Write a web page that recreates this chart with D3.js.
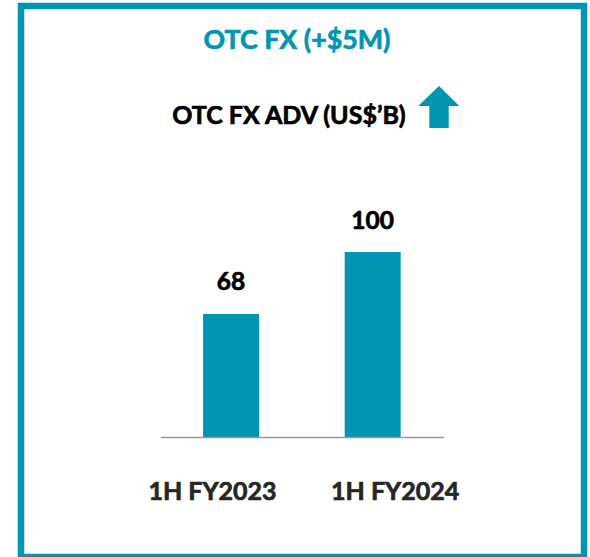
<!DOCTYPE html>
<html>
<head>
<meta charset="utf-8">
<script src="https://cdn.jsdelivr.net/npm/d3@7"></script>
<style>
  html, body { margin: 0; padding: 0; background: #fff; }
  svg { display: block; }
  text { font-family: Lato, "Open Sans", sans-serif; font-weight: 700; stroke-width: 0.7px; stroke-linejoin: round; }
</style>
</head>
<body>
<svg id="chart" width="590" height="557"></svg>
<script>
const categories = ["1H FY2023", "1H FY2024"];
const values = [68, 100];
const valueLabels = ["68", "100"];
const title = "OTC FX (+$5M)";
const subtitle = "OTC FX ADV (US$\u2019B)";

const teal = "#0095b3";
const svg = d3.select("#chart");

// frame
svg.append("rect")
  .attr("x", 21).attr("y", 6).attr("width", 563).attr("height", 551)
  .attr("fill", "none").attr("stroke", teal).attr("stroke-width", 6.5);

svg.append("text").attr("x", 297).attr("y", 49.3)
  .attr("text-anchor", "middle").attr("fill", teal).attr("stroke", teal)
  .attr("font-size", 26.8).text(title);

svg.append("text").attr("x", 289).attr("y", 124.3)
  .attr("text-anchor", "middle").attr("fill", "#000").attr("stroke", "#000")
  .attr("font-size", 25).text(subtitle);

// up arrow
svg.append("path")
  .attr("d", "M439,86 L459.3,106 L448.7,106 L448.7,128 L429.3,128 L429.3,106 L418.3,106 Z")
  .attr("fill", teal);

const x = d3.scaleBand().domain(categories).range([160.2, 443.5])
  .paddingInner(0.605).paddingOuter(0.3025);
const y = d3.scaleLinear().domain([4.5, 100]).range([437, 252]);

svg.selectAll("rect.bar").data(values).join("rect")
  .attr("class", "bar")
  .attr("x", (d, i) => x(categories[i]))
  .attr("width", x.bandwidth())
  .attr("y", d => y(d))
  .attr("height", d => y.range()[0] - y(d))
  .attr("fill", teal);

svg.selectAll("text.val").data(values).join("text")
  .attr("class", "val")
  .attr("x", (d, i) => x(categories[i]) + x.bandwidth() / 2)
  .attr("y", d => y(d) - 23.5)
  .attr("text-anchor", "middle").attr("fill", "#000").attr("stroke", "#000")
  .attr("font-size", 24.5)
  .text((d, i) => valueLabels[i]);

// baseline axis
const axis = d3.axisBottom(x).tickSize(0).tickFormat("");
const g = svg.append("g").attr("transform", `translate(0,${y.range()[0]})`).call(axis);
g.select(".domain").attr("stroke", "#999").attr("stroke-width", 1.5);

// category labels (offset outward as in reference)
const labelOffsets = [-18.5, 22.5];
svg.selectAll("text.cat").data(categories).join("text")
  .attr("class", "cat")
  .attr("x", (d, i) => x(d) + x.bandwidth() / 2 + labelOffsets[i])
  .attr("y", 500)
  .attr("text-anchor", "middle").attr("fill", "#262626").attr("stroke", "#262626")
  .attr("font-size", 25)
  .text(d => d);
</script>
</body>
</html>
